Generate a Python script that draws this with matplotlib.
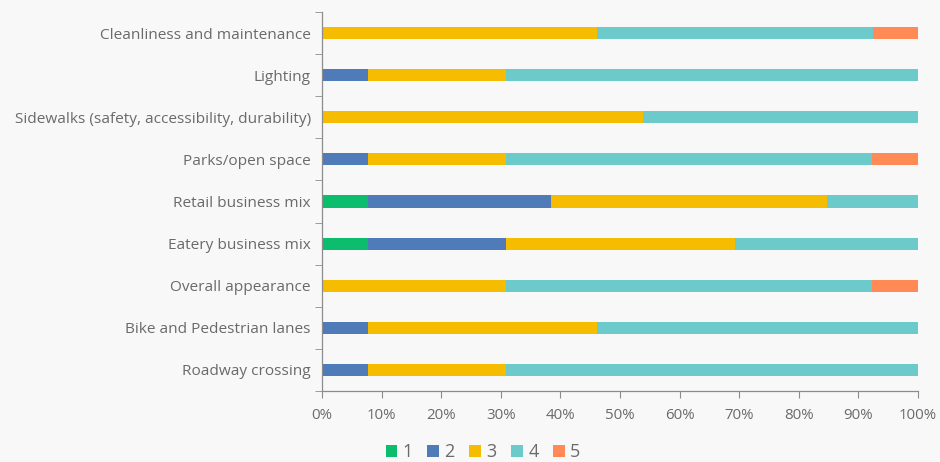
import numpy as np
import matplotlib
matplotlib.use("Agg")
import matplotlib.pyplot as plt
from matplotlib.ticker import PercentFormatter

plt.rcParams['font.family'] = ['Open Sans', 'DejaVu Sans']

categories = [
    "Roadway crossing",
    "Bike and Pedestrian lanes",
    "Overall appearance",
    "Eatery business mix",
    "Retail business mix",
    "Parks/open space",
    "Sidewalks (safety, accessibility, durability)",
    "Lighting",
    "Cleanliness and maintenance",
]

# share of responses per rating, in percent (bottom row first)
rating_1 = [0, 0, 0, 7.7, 7.7, 0, 0, 0, 0]
rating_2 = [7.7, 7.7, 0, 23.1, 30.8, 7.7, 0, 7.7, 0]
rating_3 = [23.1, 38.5, 30.8, 38.5, 46.2, 23.1, 53.8, 23.1, 46.2]
rating_4 = [69.2, 53.8, 61.5, 30.8, 15.4, 61.5, 46.2, 69.2, 46.2]
rating_5 = [0, 0, 7.7, 0, 0, 7.7, 0, 0, 7.7]

series = [rating_1, rating_2, rating_3, rating_4, rating_5]
labels = ["1", "2", "3", "4", "5"]
colors = ["#0dbd6e", "#4f7bb8", "#f6bd00", "#6dcaca", "#ff8a55"]

bg = "#f8f8f8"
txt = "#6a6a6a"
axis_c = "#8c8c8c"

fig = plt.figure(figsize=(9.4, 4.62), dpi=100, facecolor=bg)
ax = fig.add_axes([0.3426, 0.1537, 0.6340, 0.8203], facecolor=bg)

y = np.arange(len(categories))
left = np.zeros(len(categories))
for vals, lab, col in zip(series, labels, colors):
    vals = np.array(vals)
    ax.barh(y, vals, left=left, height=0.29, color=col, label=lab)
    left += vals

ax.set_xlim(0, 100)
ax.set_ylim(-0.5, len(categories) - 0.5)
ax.set_xticks(np.arange(0, 101, 10))
ax.xaxis.set_major_formatter(PercentFormatter(decimals=0))
ax.set_yticks(y)
ax.set_yticklabels(categories)
ax.set_yticks(np.arange(-0.5, len(categories)), minor=True)

for s in ["top", "right"]:
    ax.spines[s].set_visible(False)
for s in ["left", "bottom"]:
    ax.spines[s].set_color(axis_c)
    ax.spines[s].set_linewidth(0.9)

ax.tick_params(axis="y", which="major", length=0, pad=8, labelsize=11.1, labelcolor=txt)
ax.tick_params(axis="y", which="minor", length=5, direction="out", color=axis_c)
ax.tick_params(axis="x", length=5, direction="out", color=axis_c, pad=7,
               labelsize=10.8, labelcolor=txt)

handles, labs = ax.get_legend_handles_labels()
leg = fig.legend(handles, labs, loc="center", bbox_to_anchor=(483 / 940, 1 - 452 / 462),
                 ncol=5, frameon=False, handlelength=0.65, handleheight=0.65,
                 handletextpad=0.3, columnspacing=0.8, fontsize=13)
for t in leg.get_texts():
    t.set_color(txt)

fig.savefig("out.png", dpi=100, facecolor=bg)
